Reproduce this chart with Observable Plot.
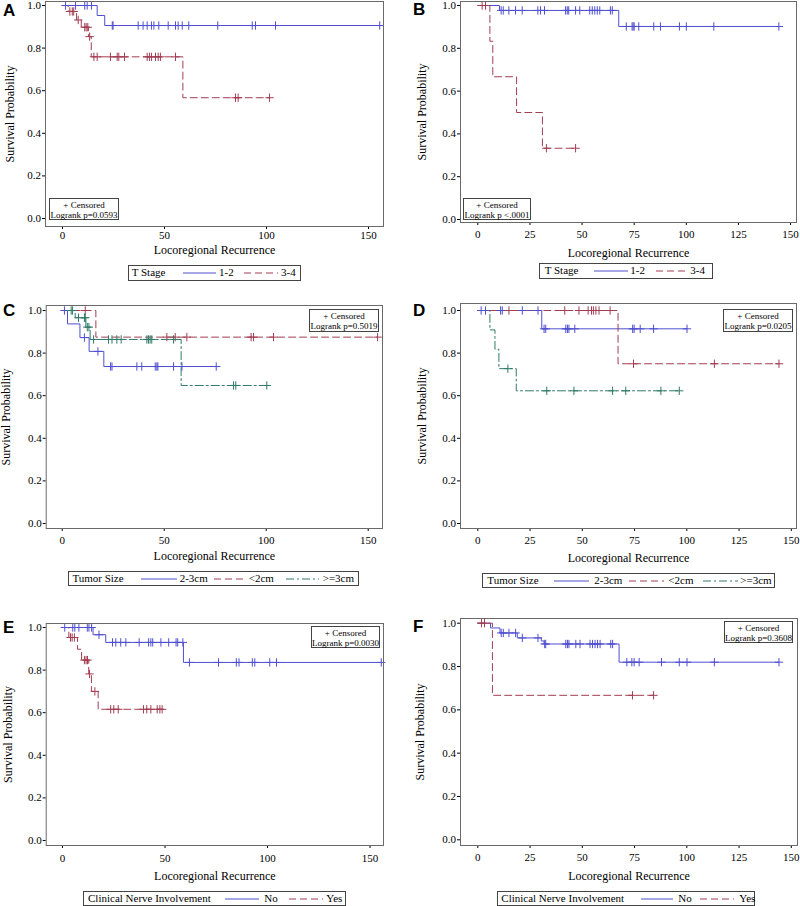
<!DOCTYPE html>
<html><head><meta charset="utf-8">
<script src="https://cdn.jsdelivr.net/npm/d3@7"></script>
<script src="https://cdn.jsdelivr.net/npm/@observablehq/plot@0.6"></script>
<style>
body{margin:0;background:#fff;}
#wrap{position:relative;width:800px;height:906px;background:#fff;overflow:hidden;font-family:"Liberation Serif","Times New Roman",serif;color:#000;}
.letter{position:absolute;font-family:"Liberation Sans",Arial,sans-serif;font-weight:bold;font-size:17px;line-height:1;}
.stat{position:absolute;border:1px solid #444;font-size:9px;line-height:10px;text-align:center;background:#fff;box-sizing:border-box;padding-top:1px;white-space:nowrap;}
.legend{position:absolute;border:1px solid #444;box-sizing:border-box;font-size:11px;background:#fff;}
.legend span{position:absolute;top:50%;transform:translateY(-52%);white-space:nowrap;line-height:1;}
.legend svg{position:absolute;top:50%;transform:translateY(-50%);}
</style></head>
<body><div id="wrap"></div>
<script>
// ---------- data (time in months, survival probability) ----------
const xLabel = "Locoregional Recurrence";
const yLabel = "Survival Probability";
const censoredText = "+ Censored";
const yTicks = [0, 0.2, 0.4, 0.6, 0.8, 1.0];
const xTicksACE = [0, 50, 100, 150];
const xTicksBDF = [0, 25, 50, 75, 100, 125, 150];
const panelLetters = ["A", "B", "C", "D", "E", "F"];
const pValues = ["Logrank p=0.0593", "Logrank p <.0001", "Logrank p=0.5019", "Logrank p=0.0205", "Logrank p=0.0030", "Logrank p=0.3608"];
const legendTitles = ["T Stage", "T Stage", "Tumor Size", "Tumor Size", "Clinical Nerve Involvement", "Clinical Nerve Involvement"];
const tStageGroups = ["1-2", "3-4"];
const tumorGroups = ["2-3cm", "<2cm", ">=3cm"];
const nerveGroups = ["No", "Yes"];

// Panel A: T stage
const A_t12_steps = [[0,1],[17.0,0.953],[20.7,0.906],[155.5,0.906]];
const A_t12_cens = [1.5,6.4,10.9,12.1,14.2,24.4,24.8,37.1,39.5,41.5,43.6,44.8,47.2,51.8,55.4,56.7,58.7,61.9,76.1,93.0,94.6,104.4,155.5];
const A_t34_steps = [[0,1],[2.8,0.972],[6.9,0.932],[9.2,0.898],[12.7,0.854],[14.1,0.759],[59.0,0.567],[101.5,0.567]];
const A_t34_cens = [3.6,4.8,5.5,7.7,10.9,11.6,12.4,13.3,15.4,17.0,23.5,26.8,27.6,30.4,41.5,42.6,43.6,45.6,46.9,48.0,55.4,84.8,86.1,101.5];

// Panel B: T stage
const B_t12_steps = [[0,1],[10.4,0.977],[67.6,0.902],[144.4,0.902]];
const B_t12_cens = [11.2,12.2,14.9,18.1,21.3,28.8,30.1,32.0,42.1,42.9,43.6,46.9,48.9,53.7,54.9,56.1,57.3,58.5,63.6,64.5,71.2,74.0,74.5,75.0,77.2,84.4,87.6,96.7,100.0,113.2,144.4];
const B_t34_steps = [[0,1],[5.8,0.833],[7.2,0.667],[18.6,0.5],[31.0,0.333],[46.9,0.333]];
const B_t34_cens = [2.1,3.7,32.9,46.9];

// Panel C: tumor size
const C_23_steps = [[0,1],[2.6,0.937],[8.7,0.873],[13.2,0.808],[20.4,0.737],[75.5,0.737]];
const C_23_cens = [1.1,10.9,17.5,23.7,24.4,36.6,39.0,45.6,46.4,46.9,54.6,58.7,75.5];
const C_lt2_steps = [[0,1],[16.5,0.875],[154.6,0.875]];
const C_lt2_cens = [11.3,51.3,55.4,61.1,92.6,93.8,103.6,154.6];
const C_ge3_steps = [[0,1],[6.4,0.966],[11.6,0.922],[13.7,0.864],[58.3,0.648],[100.3,0.648]];
const C_ge3_cens = [4.4,5.1,8.0,10.9,11.3,12.3,13.1,15.4,22.7,24.4,26.8,28.9,41.5,42.3,43.1,43.9,54.6,84.0,85.1,100.3];

// Panel D: tumor size
const D_23_steps = [[0,1],[30.6,0.914],[100.1,0.914]];
const D_23_cens = [1.6,3.7,10.9,11.7,21.3,28.8,31.7,32.5,42.1,42.9,43.6,46.4,74.1,74.8,77.7,84.1,100.1];
const D_lt2_steps = [[0,1],[67.1,0.75],[144.1,0.75]];
const D_lt2_cens = [14.9,41.6,48.4,52.8,54.4,55.3,56.5,58.0,63.3,74.5,113.2,144.1];
const D_ge3_steps = [[0,1],[5.8,0.909],[8.2,0.818],[10.1,0.727],[18.4,0.623],[96.4,0.623]];
const D_ge3_cens = [14.4,33.0,46.0,64.5,70.8,87.6,96.4];

// Panel E: clinical nerve involvement
const E_no_steps = [[0,1],[14.9,0.966],[21.1,0.93],[59.0,0.836],[155.5,0.836]];
const E_no_cens = [1.1,5.0,6.0,8.0,12.1,12.9,14.2,17.8,24.4,26.0,28.4,30.9,37.4,42.0,43.1,44.0,48.0,51.8,55.4,56.2,58.7,61.9,76.1,84.8,86.1,92.6,93.8,101.1,104.4,155.5];
const E_yes_steps = [[0,1],[3.1,0.953],[7.3,0.898],[9.3,0.847],[12.8,0.782],[14.1,0.70],[17.4,0.616],[48.6,0.616]];
const E_yes_cens = [3.9,4.7,5.8,10.7,11.5,12.2,13.2,15.8,23.5,25.0,27.2,39.5,41.1,43.1,46.2,47.5,48.6];

// Panel F: clinical nerve involvement
const F_no_steps = [[0,1],[6.1,0.978],[10.6,0.955],[18.9,0.932],[30.4,0.918],[31.7,0.904],[67.6,0.82],[144.1,0.82]];
const F_no_cens = [11.2,12.2,14.9,18.1,21.3,28.8,32.0,32.5,42.1,42.9,43.6,46.9,48.9,53.7,54.9,56.1,57.3,58.5,63.6,64.5,71.3,73.7,74.8,77.2,87.9,96.4,100.1,113.2,144.1];
const F_yes_steps = [[0,1],[7.0,0.667],[84.1,0.667]];
const F_yes_cens = [1.8,3.2,74.0,84.1];

// ---------- styles ----------
const BLUE = "#4f4fd0", RED = "#a23d52", GREEN = "#2f7a68";
const styleSolid = {color: BLUE, dash: null};
const styleDash = {color: RED, dash: "7,4"};
const styleDashDot = {color: GREEN, dash: "8,3,2,3"};

// ---------- layout (page pixels) ----------
const layouts = [
  {svgL:0,   svgT:0,   w:400, h:262, fL:45,   fR:383, fT:1,   fB:226, x0:62,    xpu:2.04,  y1:5,     y0:218,   tp:1.5, ylab:35,   title:24, xt:xTicksACE},
  {svgL:400, svgT:0,   w:400, h:262, fL:460,  fR:796, fT:1,   fB:222, x0:477.3, xpu:2.085, y1:5,     y0:219,   tp:5,   ylab:38.5, title:31, xt:xTicksBDF},
  {svgL:0,   svgT:300, w:400, h:264, fL:45.7, fR:382, fT:305, fB:528, x0:61.7,  xpu:2.04,  y1:310,   y0:523,   tp:4.5, ylab:40.5, title:28, xt:xTicksACE},
  {svgL:400, svgT:300, w:400, h:264, fL:460,  fR:796, fT:303, fB:528, x0:477.3, xpu:2.09,  y1:310,   y0:523,   tp:4.5, ylab:38.5, title:30, xt:xTicksBDF},
  {svgL:0,   svgT:600, w:400, h:286, fL:45.7, fR:383, fT:623, fB:845, x0:62,    xpu:2.05,  y1:627,   y0:840,   tp:5.5, ylab:38.5, title:31, xt:xTicksACE},
  {svgL:400, svgT:600, w:400, h:286, fL:460,  fR:797, fT:618, fB:845, x0:477.3, xpu:2.09,  y1:622.7, y0:839.3, tp:5,   ylab:40,   title:31, xt:xTicksBDF}
];
const letterPos = [[3,2],[413,1],[3,302],[413,302],[3,619],[413,618]];
const statBoxes = [[49,198,70,22],[463,198,68,22],[309,309,70,23],[723,309,70,23],[311,626,69,22],[724,621,69,22]];
const legendBoxes = [
  {box:[128,265,173,16], tx:2.7, items:[[53.7,87,90],[115,149,152]]},
  {box:[539,263,174,16], tx:4.7, items:[[53.7,87.7,90.3],[116,146,150.3]]},
  {box:[68,571,291,15], tx:3.4, items:[[71.7,108.4,110.7],[144.7,176.7,179.7],[216.7,249.7,253.7]]},
  {box:[482,573,293,15], tx:4.3, items:[[71.3,106.3,111.3],[146.3,181.3,185.3],[220.3,255.3,257.3]]},
  {box:[83,891,263,15], tx:4, items:[[141.3,175.3,180.3],[205.3,239.3,242.3]]},
  {box:[497,891,258,15], tx:3.3, items:[[143.3,175.3,180.3],[202.3,236.3,241.3]]}
];

const panels = [
  {groups: tStageGroups, series: [[A_t12_steps, A_t12_cens, styleSolid], [A_t34_steps, A_t34_cens, styleDash]]},
  {groups: tStageGroups, series: [[B_t12_steps, B_t12_cens, styleSolid], [B_t34_steps, B_t34_cens, styleDash]]},
  {groups: tumorGroups, series: [[C_23_steps, C_23_cens, styleSolid], [C_lt2_steps, C_lt2_cens, styleDash], [C_ge3_steps, C_ge3_cens, styleDashDot]]},
  {groups: tumorGroups, series: [[D_23_steps, D_23_cens, styleSolid], [D_lt2_steps, D_lt2_cens, styleDash], [D_ge3_steps, D_ge3_cens, styleDashDot]]},
  {groups: nerveGroups, series: [[E_no_steps, E_no_cens, styleSolid], [E_yes_steps, E_yes_cens, styleDash]]},
  {groups: nerveGroups, series: [[F_no_steps, F_no_cens, styleSolid], [F_yes_steps, F_yes_cens, styleDash]]}
];

function stepY(steps, t) {
  let s = steps[0][1];
  for (const [tt, ss] of steps) { if (tt <= t + 1e-9) s = ss; else break; }
  return s;
}

const wrap = document.getElementById("wrap");

panels.forEach((p, i) => {
  const c = layouts[i];
  const xd = [(c.fL - c.x0) / c.xpu, (c.fR - c.x0) / c.xpu];
  const S = px => (c.y0 - px) / (c.y0 - c.y1);
  const yd = [S(c.fB), S(c.fT)];
  const marks = [];
  p.series.forEach(([steps, cens, st]) => {
    marks.push(Plot.line(steps, {x: d => d[0], y: d => d[1], curve: "step-after", stroke: st.color, strokeWidth: 1, strokeDasharray: st.dash || undefined}));
  });
  p.series.forEach(([steps, cens, st]) => {
    marks.push(Plot.dot(cens.map(t => [t, stepY(steps, t)]), {x: d => d[0], y: d => d[1], symbol: "plus", r: 2.8, stroke: st.color, strokeWidth: 1}));
  });
  marks.push(Plot.frame({stroke: "#6a6a6a"}));
  marks.push(Plot.text([xLabel], {frameAnchor: "bottom", dy: c.title, fontSize: 12, lineAnchor: "middle", textAnchor: "middle"}));
  marks.push(Plot.text([yLabel], {frameAnchor: "left", dx: -c.ylab, rotate: -90, fontSize: 12, lineAnchor: "middle", textAnchor: "middle"}));
  const svg = Plot.plot({
    width: c.w, height: c.h,
    marginLeft: c.fL - c.svgL, marginRight: c.svgL + c.w - c.fR,
    marginTop: c.fT - c.svgT, marginBottom: c.svgT + c.h - c.fB,
    style: {fontFamily: "'Liberation Serif','Times New Roman',serif", fontSize: "11px", color: "#000", background: "transparent", overflow: "visible"},
    x: {domain: xd, ticks: c.xt, tickSize: 3, tickPadding: c.tp, label: null},
    y: {domain: yd, ticks: yTicks, tickFormat: d3.format(".1f"), tickSize: 3, tickPadding: 1.5, label: null},
    marks
  });
  svg.style.position = "absolute";
  svg.style.left = c.svgL + "px";
  svg.style.top = c.svgT + "px";
  wrap.appendChild(svg);

  // panel letter
  const L = document.createElement("div");
  L.className = "letter";
  L.textContent = panelLetters[i];
  L.style.left = letterPos[i][0] + "px";
  L.style.top = letterPos[i][1] + "px";
  wrap.appendChild(L);

  // censored / logrank box
  const sb = statBoxes[i];
  const st = document.createElement("div");
  st.className = "stat";
  Object.assign(st.style, {left: sb[0] + "px", top: sb[1] + "px", width: sb[2] + "px", height: sb[3] + "px"});
  const l1 = document.createElement("div"); l1.textContent = censoredText;
  const l2 = document.createElement("div"); l2.textContent = pValues[i];
  st.appendChild(l1); st.appendChild(l2);
  wrap.appendChild(st);

  // legend
  const lg = legendBoxes[i];
  const box = document.createElement("div");
  box.className = "legend";
  Object.assign(box.style, {left: lg.box[0] + "px", top: lg.box[1] + "px", width: lg.box[2] + "px", height: lg.box[3] + "px"});
  const t = document.createElement("span");
  t.textContent = legendTitles[i];
  t.style.left = lg.tx + "px";
  box.appendChild(t);
  lg.items.forEach((it, k) => {
    const stl = p.series[k][2];
    const ns = "http://www.w3.org/2000/svg";
    const s = document.createElementNS(ns, "svg");
    const wdt = it[1] - it[0];
    s.setAttribute("width", wdt); s.setAttribute("height", 6);
    s.style.left = it[0] + "px";
    const ln = document.createElementNS(ns, "line");
    ln.setAttribute("x1", 0); ln.setAttribute("x2", wdt); ln.setAttribute("y1", 3); ln.setAttribute("y2", 3);
    ln.setAttribute("stroke", stl.color); ln.setAttribute("stroke-width", 1);
    if (stl.dash) ln.setAttribute("stroke-dasharray", stl.dash);
    s.appendChild(ln);
    box.appendChild(s);
    const lab = document.createElement("span");
    lab.textContent = p.groups[k];
    lab.style.left = it[2] + "px";
    box.appendChild(lab);
  });
  wrap.appendChild(box);
});
</script>
</body></html>
